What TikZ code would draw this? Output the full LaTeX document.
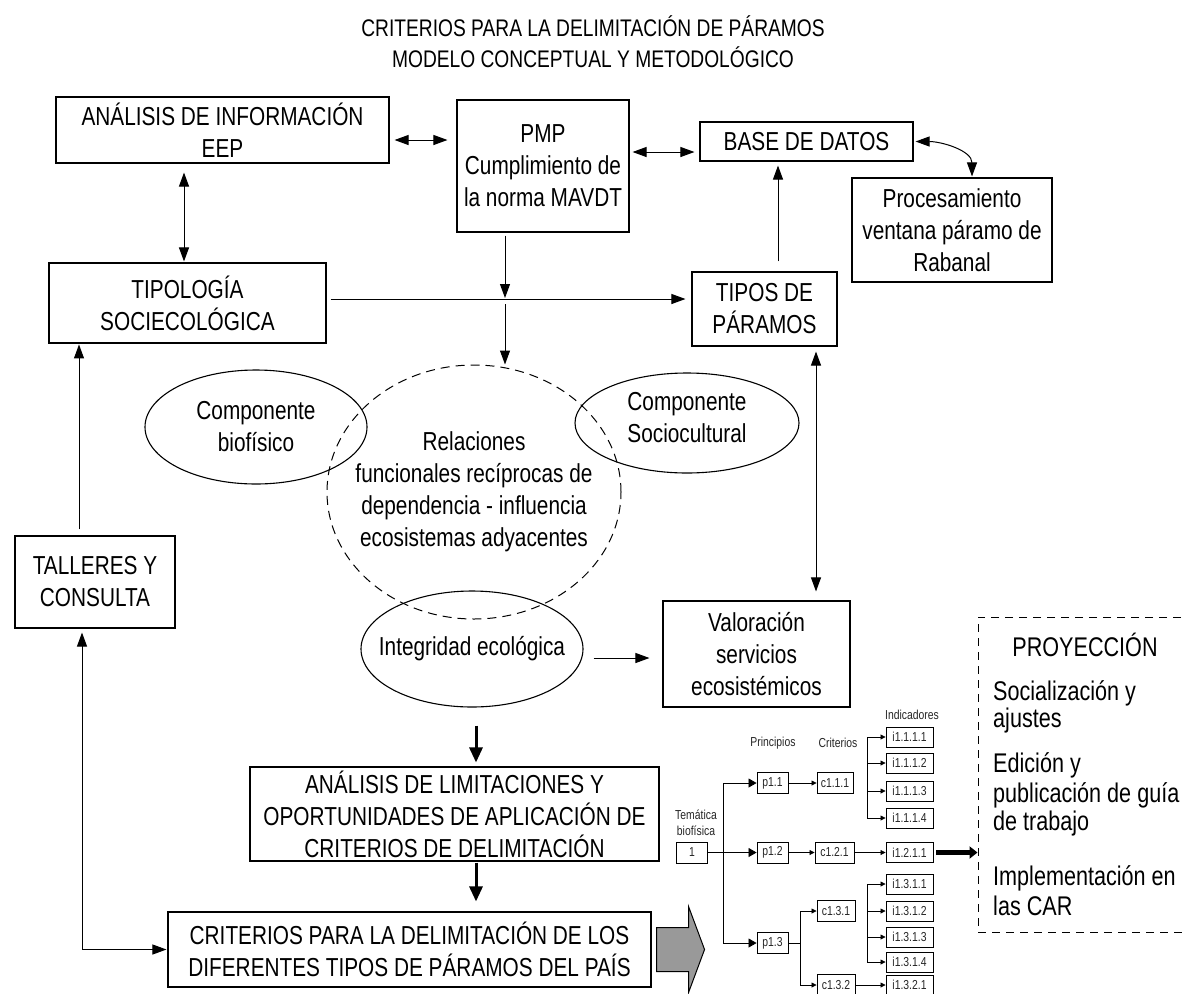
\documentclass[tikz,border=0pt]{standalone}
\usepackage{fontspec}
\setmainfont{Liberation Sans}[FakeStretch=0.8]
\usetikzlibrary{arrows.meta,shapes.geometric}
\newcommand\bigfs{\fontsize{26}{32}\selectfont}
\newcommand\tinyfs{\fontsize{13}{16}\selectfont}
\tikzset{
	box/.style 2 args={draw,line width=1.1pt,minimum width=#1,minimum height=#2,inner sep=0pt,align=center,font=\bigfs},
	oval/.style 2 args={ellipse,draw,line width=1.1pt,minimum width=#1,minimum height=#2,inner sep=0pt},
	txt/.style={font=\bigfs,align=center,inner sep=0pt},
	arr/.style={-{Triangle[length=14pt,width=10pt]},line width=1pt},
	darr/.style={{Triangle[length=14pt,width=10pt]}-{Triangle[length=14pt,width=10pt]},line width=1pt},
	thk/.style={-{Triangle[length=15pt,width=13pt]},line width=3pt},
	tbox/.style={draw,line width=0.9pt,minimum width=#1,minimum height=21pt,inner sep=0pt,font=\tinyfs,text=black!85},
	tlab/.style={font=\tinyfs,text=black!85,align=center,inner sep=0pt},
	parr/.style={-{Triangle[length=8pt,width=9pt]},line width=0.8pt},
	tarr/.style={-{Triangle[length=5pt,width=5pt]},line width=0.8pt}
}
\begin{document}
\begin{tikzpicture}[x=1pt,y=-1pt]
	\useasboundingbox (0,0) rectangle (1187,994);
	\fill[white] (0,0) rectangle (1187,994);
	\clip (0,0) rectangle (1187,994);

	\node[txt,font=\fontsize{24}{31}\selectfont] (title) at (593,42) {CRITERIOS PARA LA DELIMITACIÓN DE PÁRAMOS\\MODELO CONCEPTUAL Y METODOLÓGICO};

	% cajas
	\node[box={333pt}{66pt}] (aei) at (222.5,130) {ANÁLISIS DE INFORMACIÓN\\EEP};
	\node[box={172pt}{132pt}] (pmp) at (543,166) {PMP\\Cumplimiento de\\la norma MAVDT};
	\node[box={213pt}{39pt}] (bd) at (806.5,141.5) {BASE DE DATOS};
	\node[box={200pt}{104pt}] (proc) at (952,230) {Procesamiento\\ventana páramo de\\Rabanal};
	\node[box={277pt}{80pt}] (tsoc) at (187.5,303) {TIPOLOGÍA\\SOCIECOLÓGICA};
	\node[box={145pt}{74pt}] (tpar) at (764.5,309) {TIPOS DE\\PÁRAMOS};
	\node[box={187pt}{106pt}] (val) at (756.5,654) {Valoración\\servicios\\ecosistémicos};
	\node[box={160pt}{92pt}] (tal) at (95,582) {TALLERES Y\\CONSULTA};
	\node[box={409pt}{94pt}] (lim) at (454.5,814) {ANÁLISIS DE LIMITACIONES Y\\OPORTUNIDADES DE APLICACIÓN DE\\CRITERIOS DE DELIMITACIÓN};
	\node[box={483pt}{75pt}] (crit) at (409.5,949.5) {CRITERIOS PARA LA DELIMITACIÓN DE LOS\\DIFERENTES TIPOS DE PÁRAMOS DEL PAÍS};

	% elipses
	\node[oval={294pt}{254pt},line width=1pt,dash pattern=on 9pt off 6pt] (rel) at (474,492) {};
	\node[txt] (reltx) at (rel.center) {Relaciones\\funcionales recíprocas de\\dependencia - influencia\\ecosistemas adyacentes};
	\node[oval={222pt}{114pt}] (bio) at (256,427) {};
	\node[txt] (biotx) at (bio.center) {Componente\\biofísico};
	\node[oval={224pt}{100pt}] (soc) at (687,423) {};
	\node[txt] (soctx) at ([yshift=5pt]soc.center) {Componente\\Sociocultural};
	\node[oval={222pt}{116pt}] (integ) at (472,649) {};
	\node[txt] (integtx) at (integ.center) {Integridad ecológica};

	% proyeccion
	\node[draw,line width=1pt,dash pattern=on 8pt off 6pt,minimum width=217pt,minimum height=315pt] (proy) at (1086.5,774.5) {};
	\node[txt,font=\fontsize{27}{30}\selectfont] (proyt) at (1085,645) {PROYECCIÓN};
	\foreach \yb/\t [count=\i] in {700/Socialización y,727/ajustes,772/Edición y,802/publicación de guía,830/de trabajo,885/Implementación en,915/las CAR}
		\node[anchor=base west,inner sep=0pt,font=\fontsize{27}{30}\selectfont] (proy\i) at (993,\yb) {\t};

	% flechas
	\coordinate (jn) at (505,299);
	\draw[darr] ([xshift=5pt,yshift=-10pt]aei.east) -- ([xshift=-9pt,yshift=26pt]pmp.west);
	\draw[darr] ([xshift=3pt,yshift=14pt]pmp.east) -- ([xshift=-5pt,yshift=-10.5pt]bd.west);
	\draw[darr] ([xshift=2pt]bd.east) to[out=0,in=90] ([xshift=20pt,yshift=1pt]proc.north);
	\draw[darr] ([xshift=-38.5pt,yshift=-9pt]aei.south) -- ([xshift=-3.5pt,yshift=1pt]tsoc.north);
	\draw[arr,shorten >=6pt] ([xshift=4pt,yshift=4pt]tsoc.east) -- (tpar.west |- jn);
	\draw[arr,shorten <=3pt] (pmp.south -| jn) -- ([yshift=1pt]jn);
	\draw[arr,shorten <=5pt] (jn) -- (jn |- rel.north);
	\draw[arr] ([xshift=13.5pt,yshift=10pt]tpar.north) -- ([xshift=-28.5pt,yshift=-4pt]bd.south);
	\draw[darr] ([xshift=51.5pt,yshift=-5pt]tpar.south) -- ([xshift=59.5pt,yshift=9pt]val.north);
	\draw[arr] ([xshift=-16pt,yshift=6pt]tal.north) -- ++(0,-185);
	\draw[darr] ([xshift=-13pt,yshift=-4pt]tal.south) |- ([xshift=-1pt]crit.west);
	\draw[arr] ([xshift=10pt,yshift=-9pt]integ.east) -- ([xshift=-13pt,yshift=-4pt]val.west);
	\draw[thk] ([xshift=4pt,yshift=-18pt]integ.south) -- ([xshift=21.5pt,yshift=4pt]lim.north);
	\draw[thk] ([xshift=21.5pt,yshift=-1pt]lim.south) -- ([xshift=66.5pt,yshift=10pt]crit.north);

	% flecha gris
	\coordinate (ga) at ([xshift=5pt]crit.east);
	\filldraw[fill=black!40,line width=1pt] (ga) ++(0,-22) -- ++(32,0) -- ++(0,-21) -- ++(16,43) -- ++(-16,43) -- ++(0,-21) -- ++(-32,0) -- cycle;

	% arbol tematica
	\node[tlab] (tema) at (696,823) {Temática\\biofísica};
	\node[tlab] (princ) at (773,743) {Principios};
	\node[tlab] (critl) at (838,743) {Criterios};
	\node[tlab] (indic) at (912,715) {Indicadores};
	\node[tbox=31pt] (t1) at (692,852.5) {1};
	\node[tbox=31pt] (p11) at (772.5,783) {p1.1};
	\node[tbox=31pt] (p12) at (772.5,852.5) {p1.2};
	\node[tbox=31pt] (p13) at (772.5,943) {p1.3};
	\node[tbox=36pt] (c111) at (835,783) {c1.1.1};
	\node[tbox=39pt] (c121) at (834.5,852.5) {c1.2.1};
	\node[tbox=38pt] (c131) at (836,911) {c1.3.1};
	\node[tbox=38pt] (c132) at (836,985) {c1.3.2};
	\foreach \n/\lab/\yy in {1111/i1.1.1.1/737,1112/i1.1.1.2/763,1113/i1.1.1.3/791,1114/i1.1.1.4/818,1211/i1.2.1.1/852.5,1311/i1.3.1.1/884,1312/i1.3.1.2/911,1313/i1.3.1.3/937,1314/i1.3.1.4/962,1321/i1.3.2.1/985}
		\node[tbox=47pt,minimum height=20pt] (i\n) at (909.5,\yy) {\lab};
	\draw[parr] (t1.east) -- (p12.west);
	\draw[parr] (t1.east) -- ++(15.5,0) |- (p11.west);
	\draw[parr] (t1.east) -- ++(15.5,0) |- (p13.west);
	\draw[tarr] (p11.east) -- (c111.west);
	\draw[tarr] (p12.east) -- (c121.west);
	\draw[tarr] (c121.east) -- (i1211.west);
	\draw[tarr] (p13.east) -- ++(12,0) |- (c131.west);
	\draw[tarr] (p13.east) -- ++(12,0) |- (c132.west);
	\draw[tarr] (c132.east) -- (i1321.west);
	\coordinate (s1) at (867,0);
	\draw[line width=0.8pt] (i1111.west -| s1) -- (i1114.west -| s1);
	\draw[line width=0.8pt] (i1311.west -| s1) -- (i1314.west -| s1);
	\foreach \n in {1111,1112,1113,1114,1311,1312,1313,1314}
		\draw[tarr] (i\n.west -| s1) -- (i\n.west);
	\draw[line width=4.5pt,-{Triangle[length=8pt,width=12pt]}] ([xshift=3pt]i1211.east) -- (proy.west |- i1211.east);
\end{tikzpicture}
\end{document}
